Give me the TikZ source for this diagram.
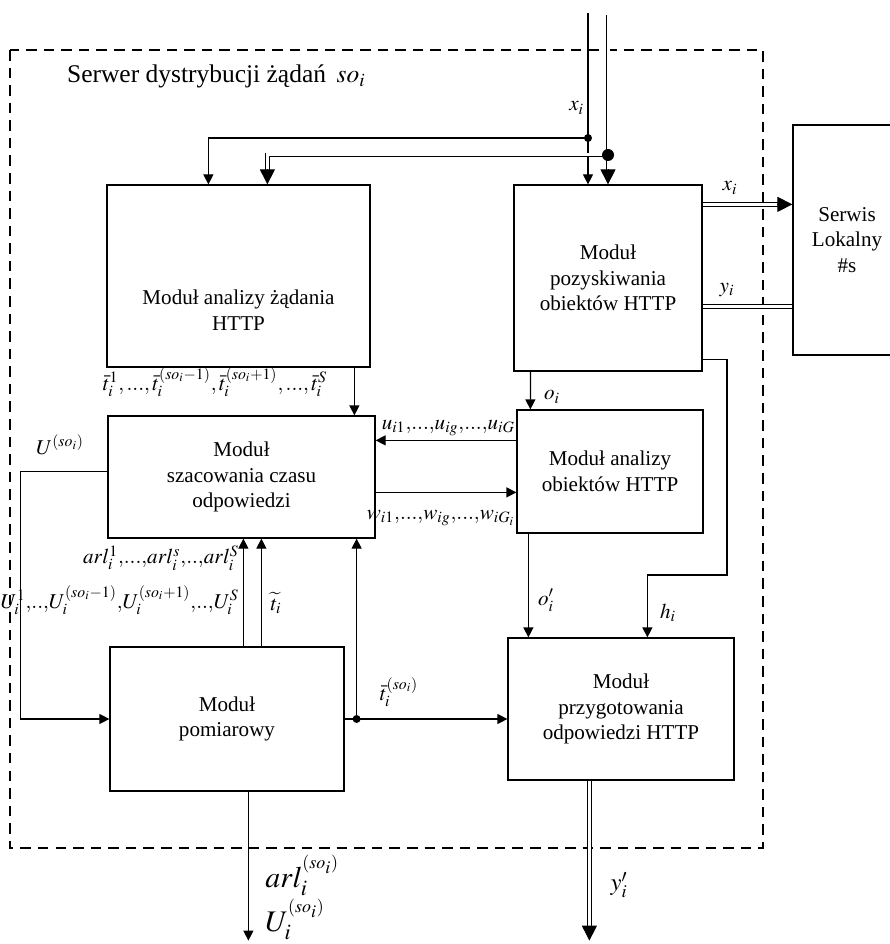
\documentclass[tikz,border=0pt]{standalone}
\usepackage{mathptmx}
\usepackage{fontspec}
\setmainfont{Liberation Serif}
\usetikzlibrary{arrows.meta,positioning,calc}

\begin{document}
\begin{tikzpicture}[x=0.2mm, y=-0.2mm, >={Triangle[length=2mm, width=2mm]}, box/.style={draw, line width=0.7pt, align=center, font=\fontsize{12}{14.6}\selectfont, inner sep=0pt}, txt/.style={align=center, font=\fontsize{12}{14.6}\selectfont}, lbl/.style={font=\fontsize{12}{14}\selectfont, inner sep=1pt}, biglbl/.style={font=\fontsize{17}{19}\selectfont, inner sep=0pt, anchor=base west}, conn/.style={line width=0.7pt}, dbl/.style={double, double distance=0.6mm, line width=0.5pt}, bigtip/.style={-{Triangle[length=3mm, width=3mm]}, line width=0.5pt}, dot/.style={circle, fill, inner sep=0pt, minimum size=1.6mm}, bigdot/.style={circle, fill, inner sep=0pt, minimum size=2.4mm}, frame/.style={dash pattern=on 6pt off 4pt, line width=1.4pt}]
\useasboundingbox (0,0) rectangle (889,944);
\draw[frame] (10,50) rectangle (763,848);
\node[lbl, anchor=base west, font=\fontsize{14.5}{16}\selectfont] (tytul) at (65,83) {Serwer dystrybucji żądań \,$so_i$};
\node[box, minimum width=52.6mm, minimum height=36.4mm] (analiza) at (238.5,276) {};
\node[txt] (analizatxt) at (238.5,310) {Moduł analizy żądania\\HTTP};
\node[box, minimum width=37.6mm, minimum height=37.2mm] (pozysk) at (608,278) {Moduł\\pozyskiwania\\obiektów HTTP};
\node[box, minimum width=21.6mm, minimum height=46mm] (serwis) at (847,240) {Serwis\\Lokalny\\\#s};
\node[box, minimum width=53.4mm, minimum height=24.4mm] (szac) at (241.5,477) {Moduł\\szacowania czasu\\odpowiedzi};
\node[box, minimum width=37.2mm, minimum height=24.6mm] (analizaob) at (610,471.5) {Moduł analizy\\obiektów HTTP};
\node[box, minimum width=45.2mm, minimum height=28.4mm] (przyg) at (621,709) {Moduł\\przygotowania\\odpowiedzi HTTP};
\node[box, minimum width=46.8mm, minimum height=28.8mm] (pomiar) at (227,719) {Moduł\\pomiarowy};
\coordinate (we1) at (588,13);
\coordinate (we2) at (608,15);
\coordinate (wez1) at (588,138);
\coordinate (wez2) at (608,155);
\coordinate (xo) at ($(pozysk.north east)+(0,20)$);
\coordinate (yo) at ($(pozysk.north east)+(0,122)$);
\coordinate (hz) at (727,575);
\coordinate (uu) at ($(analizaob.north west)+(0,31)$);
\coordinate (ww) at ($(szac.north east)+(0,77)$);
\coordinate (tt) at ($(analiza.south west)+(248,0)$);
\coordinate (oo) at ($(analizaob.south west)+(12,0)$);
\coordinate (uz) at ($(szac.north west)+(0,56)$);
\coordinate (a1) at ($(pomiar.north west)+(134,0)$);
\coordinate (a2) at ($(pomiar.north west)+(152,0)$);
\coordinate (pt) at ($(pomiar.east)+(12,0)$);
\coordinate (wy1) at ($(pomiar.south west)+(139,149)$);
\coordinate (wy2) at ($(przyg.south west)+(82,160)$);
\draw[conn,->] (we1) -- (we1 |- pozysk.north);
\draw[conn,->] (wez1) -| ($(analiza.north west)+(102,0)$);
\node[dot] at (wez1) {};
\draw[dbl, shorten >=2.5mm] (we2) -- (pozysk.north);
\draw[bigtip] ($(pozysk.north)+(0,-15)$) -- (pozysk.north);
\draw[dbl, shorten >=2.5mm] (wez2) -| ($(analiza.north west)+(161,0)$);
\draw[bigtip] ($(analiza.north west)+(161,-15)$) -- ($(analiza.north west)+(161,0)$);
\node[bigdot] at (wez2) {};
\draw[dbl, shorten >=2.5mm] (xo) -- (xo -| serwis.west);
\draw[bigtip] ($(xo -| serwis.west)+(-15,0)$) -- (xo -| serwis.west);
\draw[dbl] (yo) -- (yo -| serwis.west);
\draw[conn,->] ($(pozysk.south west)+(17,0)$) -- ($(analizaob.north west)+(14,0)$);
\draw[conn,->] ($(pozysk.south east)+(0,-12)$) -| (hz) -| ($(przyg.north west)+(140,0)$);
\draw[conn,->] (uu) -- (uu -| szac.east);
\draw[conn,->] (ww) -- (ww -| analizaob.west);
\draw[conn,->] (tt) -- (tt |- szac.north);
\draw[conn,->] (oo) -- (oo |- przyg.north);
\draw[conn,->] (uz) -- ++(-87,0) |- (pomiar.west);
\draw[conn,->] (a1) -- (a1 |- szac.south);
\draw[conn,->] (a2) -- (a2 |- szac.south);
\draw[conn,->] (pomiar.east) -- (pomiar.east -| przyg.west);
\draw[conn,->] (pt) -- (pt |- szac.south);
\node[dot] at (pt) {};
\draw[conn,->] ($(pomiar.south west)+(139,0)$) -- (wy1);
\draw[dbl, shorten >=2.5mm] ($(przyg.south west)+(82,0)$) -- (wy2);
\draw[bigtip] ($(wy2)+(0,-15)$) -- (wy2);
\node[lbl, anchor=east] (lxi) at (586,108) {$x_i$};
\node[lbl] (lxo) at (730,188) {$x_i$};
\node[lbl] (lyo) at (727,290) {$y_i$};
\node[lbl] (loi) at (552,397) {$o_i$};
\node[lbl, anchor=east] (lu) at (517,428) {$u_{i1}{,}...{,}u_{ig}{,}...{,}u_{iG}$};
\node[lbl, anchor=east] (lw) at (517,518) {$w_{i1}{,}...{,}w_{ig}{,}...{,}w_{iG_i}$};
\node[lbl] (lt) at (215,382) {$\bar{t}_i^{1},...,\bar{t}_i^{(so_i-1)},\bar{t}_i^{(so_i+1)},...,\bar{t}_i^{S}$};
\node[lbl] (lU) at (60,445) {$U^{(so_i)}$};
\node[lbl, anchor=east] (larl) at (241,558) {$arl_i^1{,}...{,}arl_i^s{,}..{,}arl_i^S$};
\node[lbl, anchor=east] (lUi) at (241,600) {$U_i^1{,}..{,}U_i^{(so_i-1)}{,}U_i^{(so_i+1)}{,}..{,}U_i^S$};
\node[lbl] (ltt) at (276,603) {$\widetilde{t}_i$};
\node[lbl] (lts) at (399,692) {$\bar{t}_i^{(so_i)}$};
\node[lbl] (loo) at (546,600) {$o'_i$};
\node[lbl] (lh) at (668,613) {$h_i$};
\node[biglbl] (larlo) at (265,887) {$arl_i^{^{(so_i)}}$};
\node[biglbl] (lUo) at (265,931) {$U_i^{^{(so_i)}}$};
\node[lbl, font=\fontsize{14}{16}\selectfont] (lyy) at (619,885) {$y'_i$};
\end{tikzpicture}
\end{document}
